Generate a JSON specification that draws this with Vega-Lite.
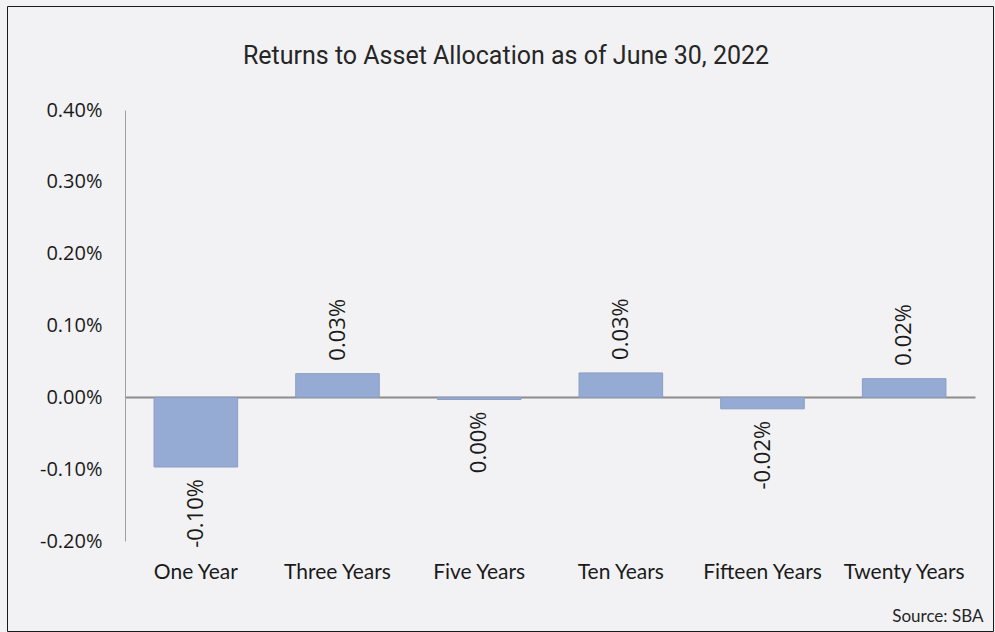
{
  "$schema": "https://vega.github.io/schema/vega-lite/v6.json",
  "width": 986,
  "height": 625,
  "autosize": {"type": "none"},
  "padding": {"left": 7, "top": 6, "right": 2, "bottom": 1},
  "background": "#f2f2f4",
  "config": {"view": {"stroke": "#1a1a1a", "strokeWidth": 1}},
  "title": {
    "text": "Returns to Asset Allocation as of June 30, 2022",
    "font": "Roboto",
    "fontSize": 25,
    "fontWeight": "normal",
    "color": "#262626",
    "anchor": "middle",
    "baseline": "alphabetic",
    "offset": 0,
    "dx": 6,
    "dy": 83
  },
  "data": {
    "values": [
      {"period": "One Year", "value": -0.097, "label": "-0.10%"},
      {"period": "Three Years", "value": 0.033, "label": "0.03%"},
      {"period": "Five Years", "value": -0.003, "label": "0.00%"},
      {"period": "Ten Years", "value": 0.034, "label": "0.03%"},
      {"period": "Fifteen Years", "value": -0.016, "label": "-0.02%"},
      {"period": "Twenty Years", "value": 0.026, "label": "0.02%"}
    ]
  },
  "encoding": {
    "x": {
      "field": "period",
      "type": "nominal",
      "sort": null,
      "scale": {"range": [118, 968], "paddingInner": 0.41, "paddingOuter": 0.205},
      "axis": {
        "orient": "bottom",
        "offset": -90,
        "domain": false,
        "ticks": false,
        "labelAngle": 0,
        "labelPadding": 20,
        "labelFont": "Lato",
        "labelFontSize": 21,
        "labelColor": "#1a1a1a",
        "title": "Source: SBA",
        "titleFont": "Lato",
        "titleFontSize": 17,
        "titleFontWeight": "normal",
        "titleColor": "#262626",
        "titleAlign": "right",
        "titleBaseline": "alphabetic",
        "titleX": 976,
        "titleY": 80
      }
    },
    "y": {
      "field": "value",
      "type": "quantitative",
      "scale": {"domain": [-0.2, 0.4], "range": [535, 104], "nice": false, "zero": false},
      "axis": {
        "title": null,
        "offset": -118,
        "domainColor": "#a0a0a0",
        "ticks": false,
        "labelPadding": 23,
        "values": [-0.2, -0.1, 0, 0.1, 0.2, 0.3, 0.4],
        "labelExpr": "replace(format(datum.value, '.2f'), '\u2212', '-') + '%'",
        "labelFont": "Open Sans",
        "labelFontSize": 20,
        "labelColor": "#1a1a1a",
        "grid": true,
        "gridColor": {"condition": {"test": "abs(datum.value) < 0.000001", "value": "#8c8c8c"}, "value": "transparent"},
        "gridWidth": 2
      }
    }
  },
  "layer": [
    {"mark": {"type": "bar", "fill": "#96abd3", "stroke": "#8b9dc3", "strokeWidth": 1}},
    {
      "transform": [{"filter": "datum.value >= 0"}],
      "mark": {"type": "text", "angle": 270, "align": "left", "baseline": "middle", "dx": 13, "font": "Open Sans", "fontSize": 22, "color": "#1a1a1a"},
      "encoding": {"text": {"field": "label"}}
    },
    {
      "transform": [{"filter": "datum.value < 0"}],
      "mark": {"type": "text", "angle": 270, "align": "right", "baseline": "middle", "dx": -12, "font": "Open Sans", "fontSize": 22, "color": "#1a1a1a"},
      "encoding": {"text": {"field": "label"}}
    }
  ]
}
